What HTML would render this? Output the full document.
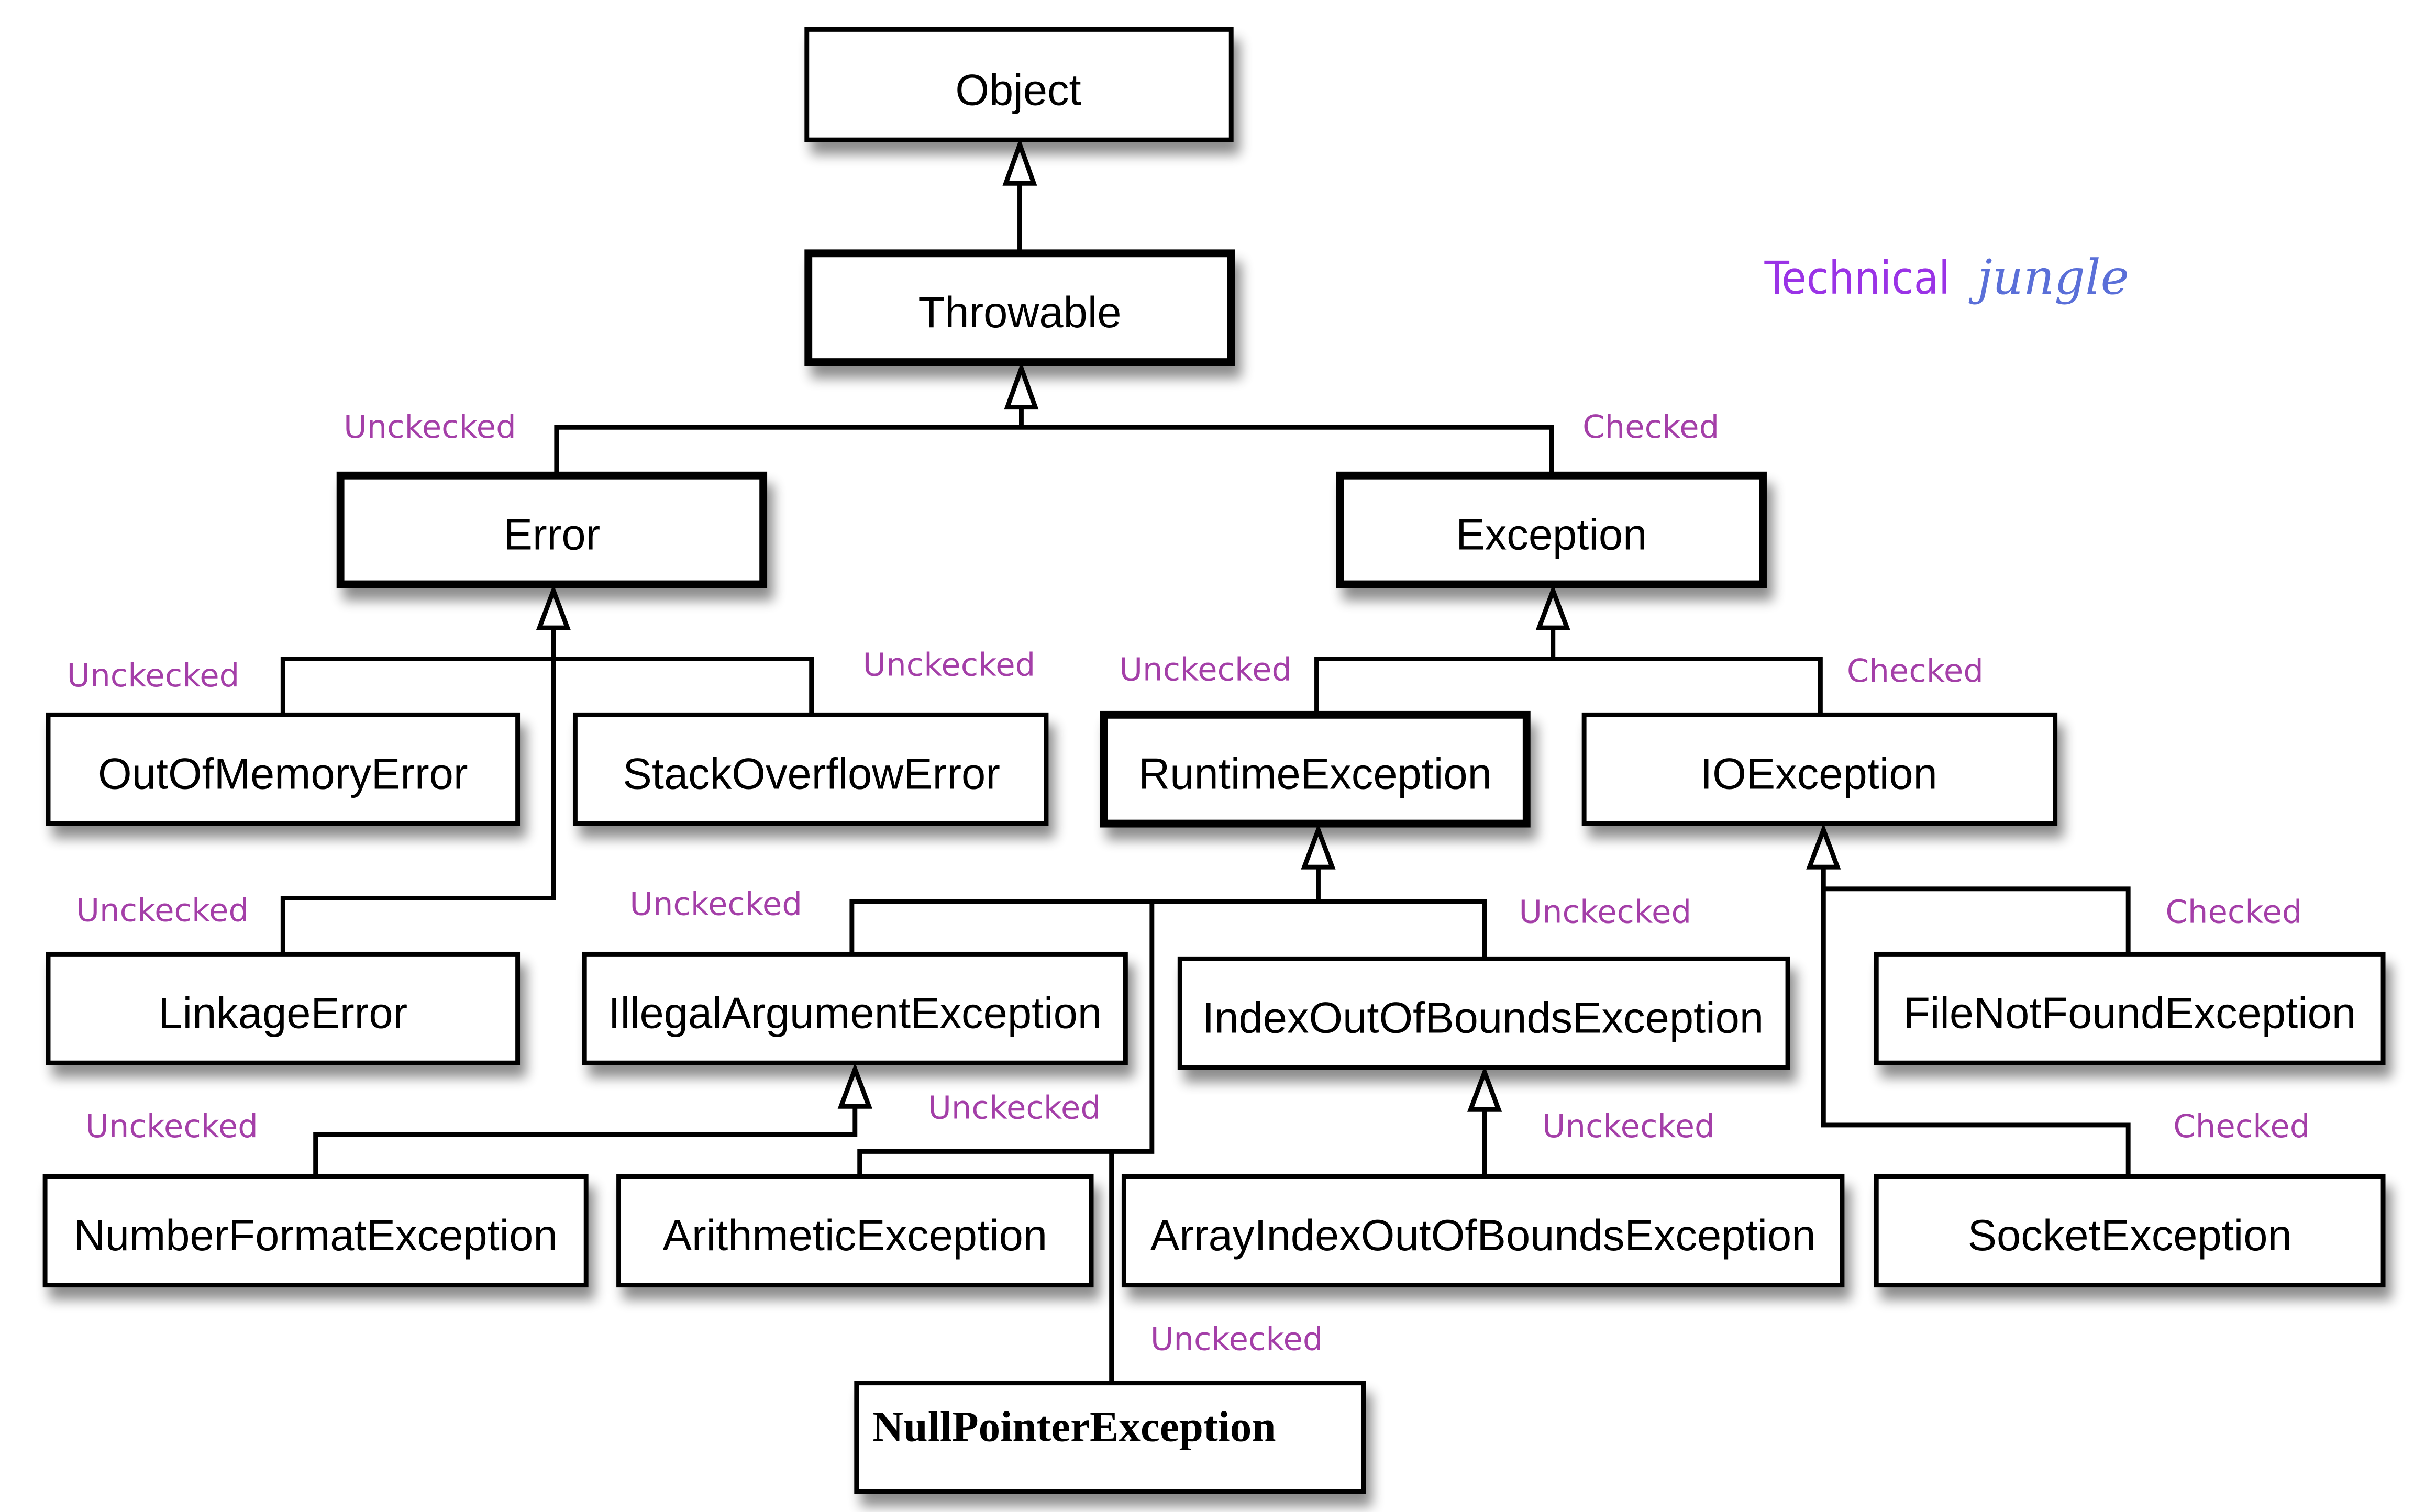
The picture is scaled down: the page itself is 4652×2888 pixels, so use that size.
<!DOCTYPE html>
<html><head><meta charset="utf-8"><style>
html,body{margin:0;padding:0;background:#fff;}
svg{display:block;}
.bx{fill:#fff;stroke:#000;}
.t{font-family:"Liberation Sans",sans-serif;font-size:28px;fill:#000;text-anchor:middle;dominant-baseline:central;}
.l{font-family:"DejaVu Sans","Liberation Sans",sans-serif;font-size:20.5px;fill:#a43fa8;dominant-baseline:central;}
.ln{stroke:#000;stroke-width:3;fill:none;}
.ar{fill:#fff;stroke:#000;stroke-width:3;stroke-linejoin:miter;}
</style></head><body>
<svg width="4652" height="2888" viewBox="0 0 1567 973" preserveAspectRatio="none" xmlns="http://www.w3.org/2000/svg">
<defs>
<filter id="sh" x="-10%" y="-20%" width="130%" height="160%">
<feGaussianBlur in="SourceAlpha" stdDeviation="4"/>
<feOffset dx="4" dy="8" result="o"/>
<feComponentTransfer><feFuncA type="linear" slope="0.45"/></feComponentTransfer>
<feMerge><feMergeNode/><feMergeNode in="SourceGraphic"/></feMerge>
</filter>
</defs>

<g class="ln">
<line x1="656" y1="118" x2="656" y2="162"/>
<polyline points="657,262 657,275"/>
<polyline points="358,305 358,275 998,275 998,305"/>
<polyline points="356,404 356,578 182,578 182,614"/>
<polyline points="182,460 182,424 522,424 522,460"/>
<polyline points="999,404 999,424"/>
<polyline points="847,459 847,424 1171,424 1171,460"/>
<polyline points="848,558 848,580"/>
<polyline points="548,614 548,580 955,580 955,617"/>
<polyline points="741,580 741,741 553,741 553,757"/>
<line x1="715" y1="741" x2="715" y2="890"/>
<polyline points="550,712 550,730 203,730 203,757"/>
<line x1="955" y1="714" x2="955" y2="757"/>
<polyline points="1173,558 1173,724 1369,724 1369,757"/>
<polyline points="1173,572 1369,572 1369,614"/>
</g>
<g class="ar">
<polygon points="656,93 647,118 665,118"/>
<polygon points="657,237 648,262 666,262"/>
<polygon points="356,380 347,404 365,404"/>
<polygon points="999,380 990,404 1008,404"/>
<polygon points="848,534 839,558 857,558"/>
<polygon points="550,688 541,712 559,712"/>
<polygon points="955,690 946,714 964,714"/>
<polygon points="1173,534 1164,558 1182,558"/>
</g>

<g filter="url(#sh)">
<rect class="bx" x="519" y="19" width="273" height="71" stroke-width="3"/>
<rect class="bx" x="520" y="163" width="272" height="70" stroke-width="5"/>
<rect class="bx" x="219" y="306" width="272" height="70" stroke-width="5"/>
<rect class="bx" x="862" y="306" width="272" height="70" stroke-width="5"/>
<rect class="bx" x="31" y="460" width="302" height="70" stroke-width="3"/>
<rect class="bx" x="370" y="460" width="303" height="70" stroke-width="3"/>
<rect class="bx" x="710" y="460" width="272" height="70" stroke-width="5"/>
<rect class="bx" x="1019" y="460" width="303" height="70" stroke-width="3"/>
<rect class="bx" x="31" y="614" width="302" height="70" stroke-width="3"/>
<rect class="bx" x="376" y="614" width="348" height="70" stroke-width="3"/>
<rect class="bx" x="759" y="617" width="391" height="70" stroke-width="3"/>
<rect class="bx" x="1207" y="614" width="326" height="70" stroke-width="3"/>
<rect class="bx" x="29" y="757" width="348" height="70" stroke-width="3"/>
<rect class="bx" x="398" y="757" width="304" height="70" stroke-width="3"/>
<rect class="bx" x="723" y="757" width="462" height="70" stroke-width="3"/>
<rect class="bx" x="1207" y="757" width="326" height="70" stroke-width="3"/>
<rect class="bx" x="551" y="890" width="326" height="70" stroke-width="3"/>
</g>

<text class="t" x="655" y="58">Object</text>
<text class="t" x="656" y="201">Throwable</text>
<text class="t" x="355" y="344">Error</text>
<text class="t" x="998" y="344">Exception</text>
<text class="t" x="182" y="498">OutOfMemoryError</text>
<text class="t" x="522" y="498">StackOverflowError</text>
<text class="t" x="846" y="498">RuntimeException</text>
<text class="t" x="1170" y="498">IOException</text>
<text class="t" x="182" y="652">LinkageError</text>
<text class="t" x="550" y="652">IllegalArgumentException</text>
<text class="t" x="954" y="655">IndexOutOfBoundsException</text>
<text class="t" x="1370" y="652">FileNotFoundException</text>
<text class="t" x="203" y="795">NumberFormatException</text>
<text class="t" x="550" y="795">ArithmeticException</text>
<text class="t" x="954" y="795">ArrayIndexOutOfBoundsException</text>
<text class="t" x="1370" y="795">SocketException</text>
<text x="561" y="918" style="font-family:'Liberation Serif',serif;font-weight:bold;font-size:28px;dominant-baseline:central">NullPointerException</text>

<text class="l" x="221" y="275">Unckecked</text>
<text class="l" x="1018" y="275">Checked</text>
<text class="l" x="43" y="435">Unckecked</text>
<text class="l" x="555" y="428">Unckecked</text>
<text class="l" x="720" y="431">Unckecked</text>
<text class="l" x="1188" y="432">Checked</text>
<text class="l" x="49" y="586">Unckecked</text>
<text class="l" x="405" y="582">Unckecked</text>
<text class="l" x="977" y="587">Unckecked</text>
<text class="l" x="1393" y="587">Checked</text>
<text class="l" x="55" y="725">Unckecked</text>
<text class="l" x="597" y="713">Unckecked</text>
<text class="l" x="992" y="725">Unckecked</text>
<text class="l" x="1398" y="725">Checked</text>
<text class="l" x="740" y="862">Unckecked</text>

<text x="1135" y="189" style="font-family:'DejaVu Sans Condensed','DejaVu Sans',sans-serif;font-size:29px;fill:#9a33e6">Technical</text>
<text x="1272" y="189" style="font-family:'DejaVu Serif',serif;font-style:italic;font-size:31px;fill:#5a6fd8">jungle</text>
</svg>
</body></html>
